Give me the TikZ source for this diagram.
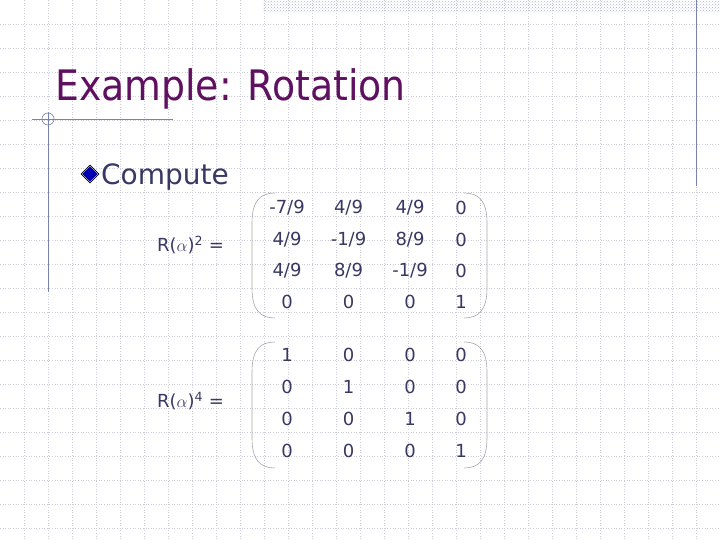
\documentclass[tikz,border=0pt]{standalone}
\usepackage{fontspec}
\setmainfont{DejaVu Sans}
\newfontfamily\titlefont{DejaVu Sans Condensed}
\usetikzlibrary{patterns,shapes.geometric}
\definecolor{titlepurple}{RGB}{96,16,96}
\definecolor{bodyblue}{RGB}{56,56,100}
\definecolor{rulecol}{RGB}{120,130,170}
\definecolor{gridcol}{RGB}{205,205,215}
\tikzset{
  entry/.style={text=bodyblue,font=\fontsize{18}{20}\selectfont,anchor=center,inner sep=0pt},
  brack/.style={draw=gray!70,line width=0.6pt},
}
\begin{document}
\begin{tikzpicture}[x=1pt,y=1pt,yscale=-1,xscale=1]
\useasboundingbox (0,0) rectangle (720,540);
%background grid
\foreach \gx in {24,48,...,720} \draw[gridcol,dotted,line width=0.6pt] (\gx,0) -- (\gx,540);
\foreach \gy in {24,48,...,540} \draw[gridcol,dotted,line width=0.6pt] (0,\gy) -- (720,\gy);
%top band
\fill[pattern=crosshatch dots,pattern color=rulecol!60] (263,0) rectangle (720,13);
%rules
\draw[rulecol,line width=1pt] (696,0) -- (696,186);
\draw[rulecol,line width=0.8pt] (32,119) -- (173,119);
\draw[rulecol,line width=0.8pt] (48,112) -- (48,292);
\draw[rulecol,line width=0.6pt] (48,119) circle (6);

% Title
\node[anchor=base west,text=titlepurple,font=\titlefont\fontsize{42}{46}\selectfont,inner sep=0pt] (title) at (55,101) {Example: Rotation};
% bullet
\node[diamond,fill=blue!70!black,draw=white,double=black,inner sep=4.5pt,shape aspect=1] (bullet) at (90,174) {};
\node[anchor=base west,text=bodyblue,font=\fontsize{28}{30}\selectfont,inner sep=0pt] (compute) at (101,185) {Compute};

% labels
\node[entry,anchor=west] (lab2) at (157,245) {R($\alpha$)\textsuperscript{2} =};
\node[entry,anchor=west] (lab4) at (157,401) {R($\alpha$)\textsuperscript{4} =};

% matrix squared
\foreach \v [count=\i from 0] in {-7/9,4/9,4/9,0} \node[entry] (a0\i) at ({287+\i*(\i<3?61.5:58)},208) {\v};
\foreach \v [count=\i from 0] in {4/9,-1/9,8/9,0} \node[entry] (a1\i) at ({287+\i*(\i<3?61.5:58)},240) {\v};
\foreach \v [count=\i from 0] in {4/9,8/9,-1/9,0} \node[entry] (a2\i) at ({287+\i*(\i<3?61.5:58)},271) {\v};
\foreach \v [count=\i from 0] in {0,0,0,1} \node[entry] (a3\i) at ({287+\i*(\i<3?61.5:58)},302) {\v};
% matrix fourth
\foreach \r [count=\j from 0] in {355,387,419,451}
  \foreach \i in {0,1,2,3} {
    \pgfmathtruncatemacro\val{\i==\j ? 1 : 0}
    \node[entry] (b\j\i) at ({287+\i*(\i<3?61.5:58)},\r) {\val};
  }

% brackets
\foreach \ty/\by in {193/318,342/468} {
  \draw[brack] (275,\ty) .. controls (260,\ty) and (252,{\ty+8}) .. (252,{\ty+30}) -- (252,{\by-30}) .. controls (252,{\by-8}) and (260,\by) .. (275,\by);
  \draw[brack] (464,\ty) .. controls (479,\ty) and (487,{\ty+8}) .. (487,{\ty+30}) -- (487,{\by-30}) .. controls (487,{\by-8}) and (479,\by) .. (464,\by);
}
\end{tikzpicture}
\end{document}
